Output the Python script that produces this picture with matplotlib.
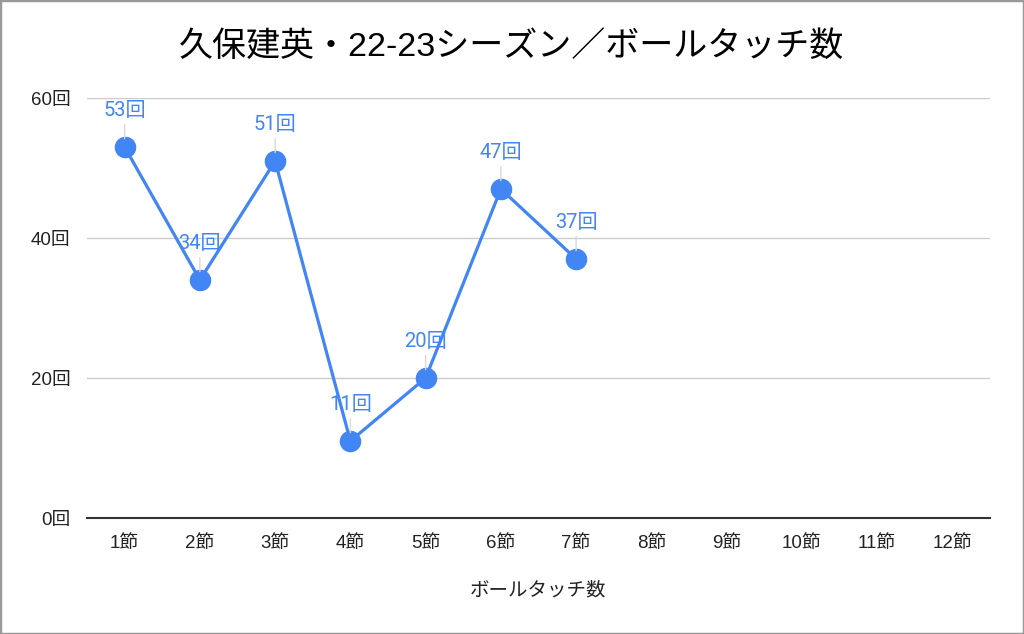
import matplotlib
matplotlib.use("Agg")
import matplotlib.pyplot as plt
from matplotlib.patches import Rectangle

plt.rcParams['font.family'] = ['Liberation Sans', 'Noto Sans CJK JP', 'DejaVu Sans']

categories = ["1節", "2節", "3節", "4節", "5節", "6節", "7節", "8節", "9節", "10節", "11節", "12節"]
touches = [53, 34, 51, 11, 20, 47, 37]
yticks = [0, 20, 40, 60]
title = "久保建英・22-23シーズン／ボールタッチ数"
xlabel = "ボールタッチ数"

blue = "#4285F4"

fig = plt.figure(figsize=(10.24, 6.34), dpi=100)
ax = fig.add_axes([87/1024, 1 - 518/634, (990 - 87)/1024, (518 - 98)/634])

x = list(range(len(touches)))
ax.plot(x, touches, color=blue, lw=2.3, marker='o', markersize=14.5, zorder=3)

for xi, v in zip(x, touches):
    ax.annotate(f"{v}回", xy=(xi, v), xytext=(0, 26), textcoords='offset points',
                ha='center', va='center', color=blue, fontsize=14.5, zorder=4,
                family=['Roboto', 'Noto Sans CJK JP', 'DejaVu Sans'],
                arrowprops=dict(arrowstyle='-', color='#d9d9d9', lw=1,
                                relpos=(0.5, 0.0), shrinkA=1, shrinkB=6))

ax.set_xlim(-0.5, len(categories) - 0.5)
ax.set_ylim(0, 60)
ax.set_xticks(range(len(categories)))
ax.set_xticklabels(categories)
ax.set_yticks(yticks)
ax.set_yticklabels([f"{t}回" for t in yticks])
ax.tick_params(axis='both', length=0, labelsize=13.5, colors='#222222')
ax.tick_params(axis='x', pad=12)
ax.tick_params(axis='y', pad=12)
ax.grid(axis='y', color='#cccccc', lw=1)
ax.set_axisbelow(True)
for s in ['top', 'right', 'left']:
    ax.spines[s].set_visible(False)
ax.spines['bottom'].set_color('#333333')
ax.spines['bottom'].set_linewidth(1.5)

ax.set_xlabel(xlabel, fontsize=14, color='#222222', labelpad=22)
fig.text(0.5, 1 - 47/634, title, ha='center', va='center', fontsize=24.5, color='#000000')

fig.patches.append(Rectangle((0, 0), 1, 1, transform=fig.transFigure, fill=False,
                             edgecolor='#999999', lw=2.5))

fig.savefig("out.png", dpi=100)
